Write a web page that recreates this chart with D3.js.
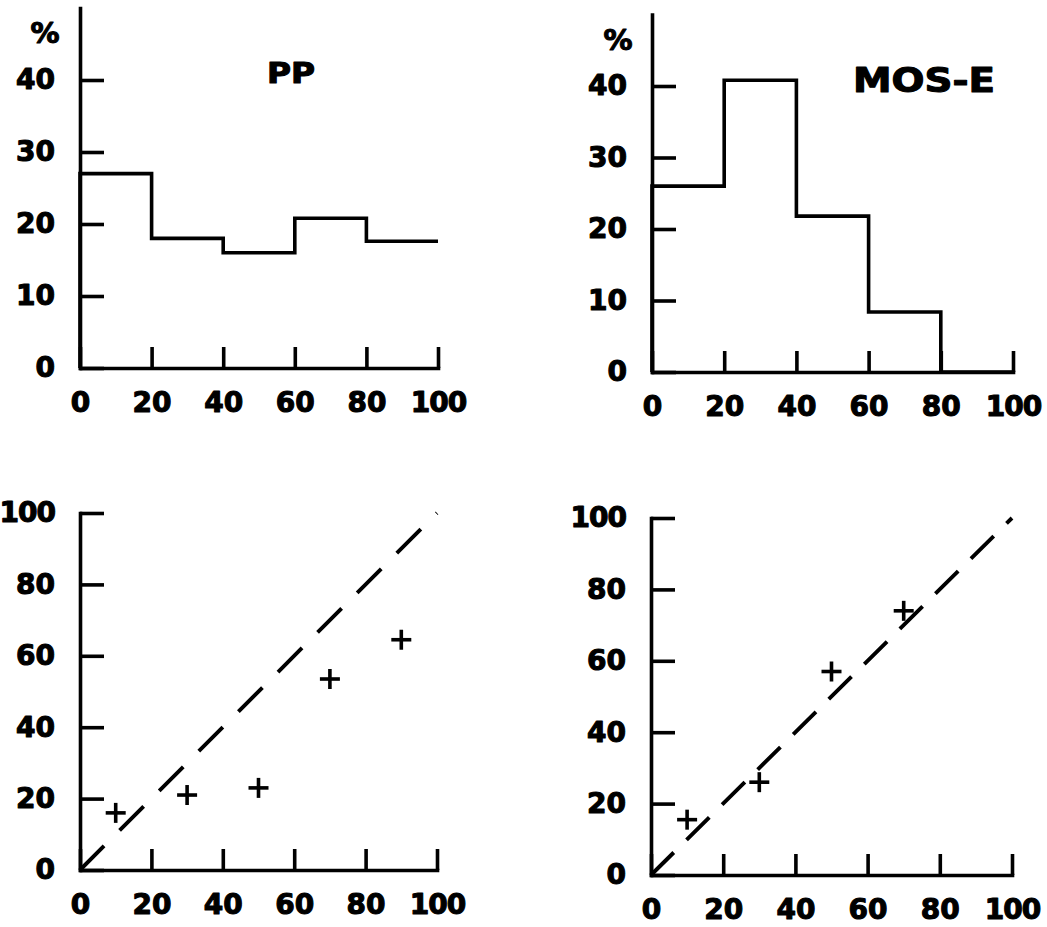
<!DOCTYPE html>
<html>
<head>
<meta charset="utf-8">
<script src="https://cdn.jsdelivr.net/npm/d3@7"></script>
<style>
  html, body { margin: 0; padding: 0; background: #fff; }
  svg { display: block; }
</style>
</head>
<body>
<svg id="chart" width="1047" height="927"></svg>
<script>
// ---- data ----
const xTicks = [0, 20, 40, 60, 80, 100];
const histYTicks = [0, 10, 20, 30, 40];
const scatYTicks = [0, 20, 40, 60, 80, 100];
const binEdges = [0, 20, 40, 60, 80, 100];
const ppPercent = [27, 18, 16, 20.8, 17.6];
const mosPercent = [26, 40.8, 21.8, 8.4, 0];
const ppObsX = [10, 30, 50, 70, 90];
const ppObsY = [16, 21, 23, 53.5, 64.5];
const mosObsX = [10, 30, 50, 70];
const mosObsY = [15.5, 26, 57, 74];
const diagonal = [0, 100];
const titles = ["PP", "MOS-E"];
const yUnit = "%";

// ---- layout ----
const svg = d3.select("#chart");
const FONT = "'DejaVu Sans', 'Liberation Sans', Arial, sans-serif";
const LW = 3.6;
const FS = 28;

const panels = [
  { x: [80, 438], y: [368, 8], yDomain: [0, 50], kind: "hist", values: ppPercent, yTicks: histYTicks,
    title: titles[0], titlePos: [291, 83], titleSize: 28, titleLen: 48, unitPos: [45, 43] },
  { x: [652, 1013], y: [372, 14.5], yDomain: [0, 50], kind: "hist", values: mosPercent, yTicks: histYTicks,
    title: titles[1], titlePos: [924, 92], titleSize: 33, titleLen: 142, unitPos: [618, 50] },
  { x: [80, 437], y: [870, 513], yDomain: [0, 100], kind: "scatter", px: ppObsX, py: ppObsY, yTicks: scatYTicks, dash: "34,22" },
  { x: [651, 1012], y: [875, 518], yDomain: [0, 100], kind: "scatter", px: mosObsX, py: mosObsY, yTicks: scatYTicks, dash: "32,18" }
];

function styleAxis(g) {
  g.attr("font-family", FONT).attr("font-size", FS).attr("font-weight", "bold");
  g.select(".domain").attr("stroke", "#000").attr("stroke-width", LW).attr("stroke-linecap", "square");
  g.selectAll(".tick line").attr("stroke", "#000").attr("stroke-width", LW);
  g.selectAll(".tick text").attr("fill", "#000").attr("stroke", "#000").attr("stroke-width", 1.1)
    .attr("stroke-linejoin", "round")
    .attr("letter-spacing", d => (d >= 100 ? "-1px" : "0px"));
}

panels.forEach(p => {
  const x = d3.scaleLinear().domain([0, 100]).range(p.x);
  const y = d3.scaleLinear().domain(p.yDomain).range(p.y);
  const g = svg.append("g");

  // axes
  g.append("g")
    .attr("transform", `translate(0,${y(0)})`)
    .call(d3.axisBottom(x).tickValues(xTicks).tickSizeInner(-21).tickSizeOuter(0).tickPadding(24))
    .call(styleAxis);
  g.append("g")
    .attr("transform", `translate(${x(0)},0)`)
    .call(d3.axisLeft(y).tickValues(p.yTicks).tickSizeInner(-24).tickSizeOuter(0).tickPadding(25))
    .call(styleAxis);

  if (p.kind === "hist") {
    const path = d3.path();
    path.moveTo(x(binEdges[0]), y(0));
    p.values.forEach((v, i) => {
      path.lineTo(x(binEdges[i]), y(v));
      path.lineTo(x(binEdges[i + 1]), y(v));
    });
    g.append("path").attr("d", path.toString())
      .attr("fill", "none").attr("stroke", "#000").attr("stroke-width", LW)
      .attr("stroke-linejoin", "miter");

    g.append("text").text(p.title)
      .attr("x", p.titlePos[0]).attr("y", p.titlePos[1])
      .attr("text-anchor", "middle")
      .attr("font-family", FONT).attr("font-weight", "bold").attr("font-size", p.titleSize)
      .attr("textLength", p.titleLen).attr("lengthAdjust", "spacingAndGlyphs")
      .attr("stroke", "#000").attr("stroke-width", 1.1).attr("stroke-linejoin", "round");

    g.append("text").text(yUnit)
      .attr("x", p.unitPos[0]).attr("y", p.unitPos[1])
      .attr("text-anchor", "middle")
      .attr("font-family", FONT).attr("font-weight", "bold").attr("font-size", 29)
      .attr("stroke", "#000").attr("stroke-width", 1.1).attr("stroke-linejoin", "round");
  } else {
    g.append("line")
      .attr("x1", x(diagonal[0])).attr("y1", y(diagonal[0]))
      .attr("x2", x(diagonal[1])).attr("y2", y(diagonal[1]))
      .attr("stroke", "#000").attr("stroke-width", LW + 0.3)
      .attr("stroke-dasharray", p.dash);

    const pts = p.px.map((v, i) => [v, p.py[i]]);
    const half = 10;
    const marks = g.selectAll(".pt").data(pts).enter().append("g").attr("class", "pt");
    marks.append("line")
      .attr("x1", d => x(d[0]) - half).attr("x2", d => x(d[0]) + half)
      .attr("y1", d => y(d[1])).attr("y2", d => y(d[1]))
      .attr("stroke", "#000").attr("stroke-width", LW);
    marks.append("line")
      .attr("x1", d => x(d[0])).attr("x2", d => x(d[0]))
      .attr("y1", d => y(d[1]) - half).attr("y2", d => y(d[1]) + half)
      .attr("stroke", "#000").attr("stroke-width", LW);
  }
});
</script>
</body>
</html>
